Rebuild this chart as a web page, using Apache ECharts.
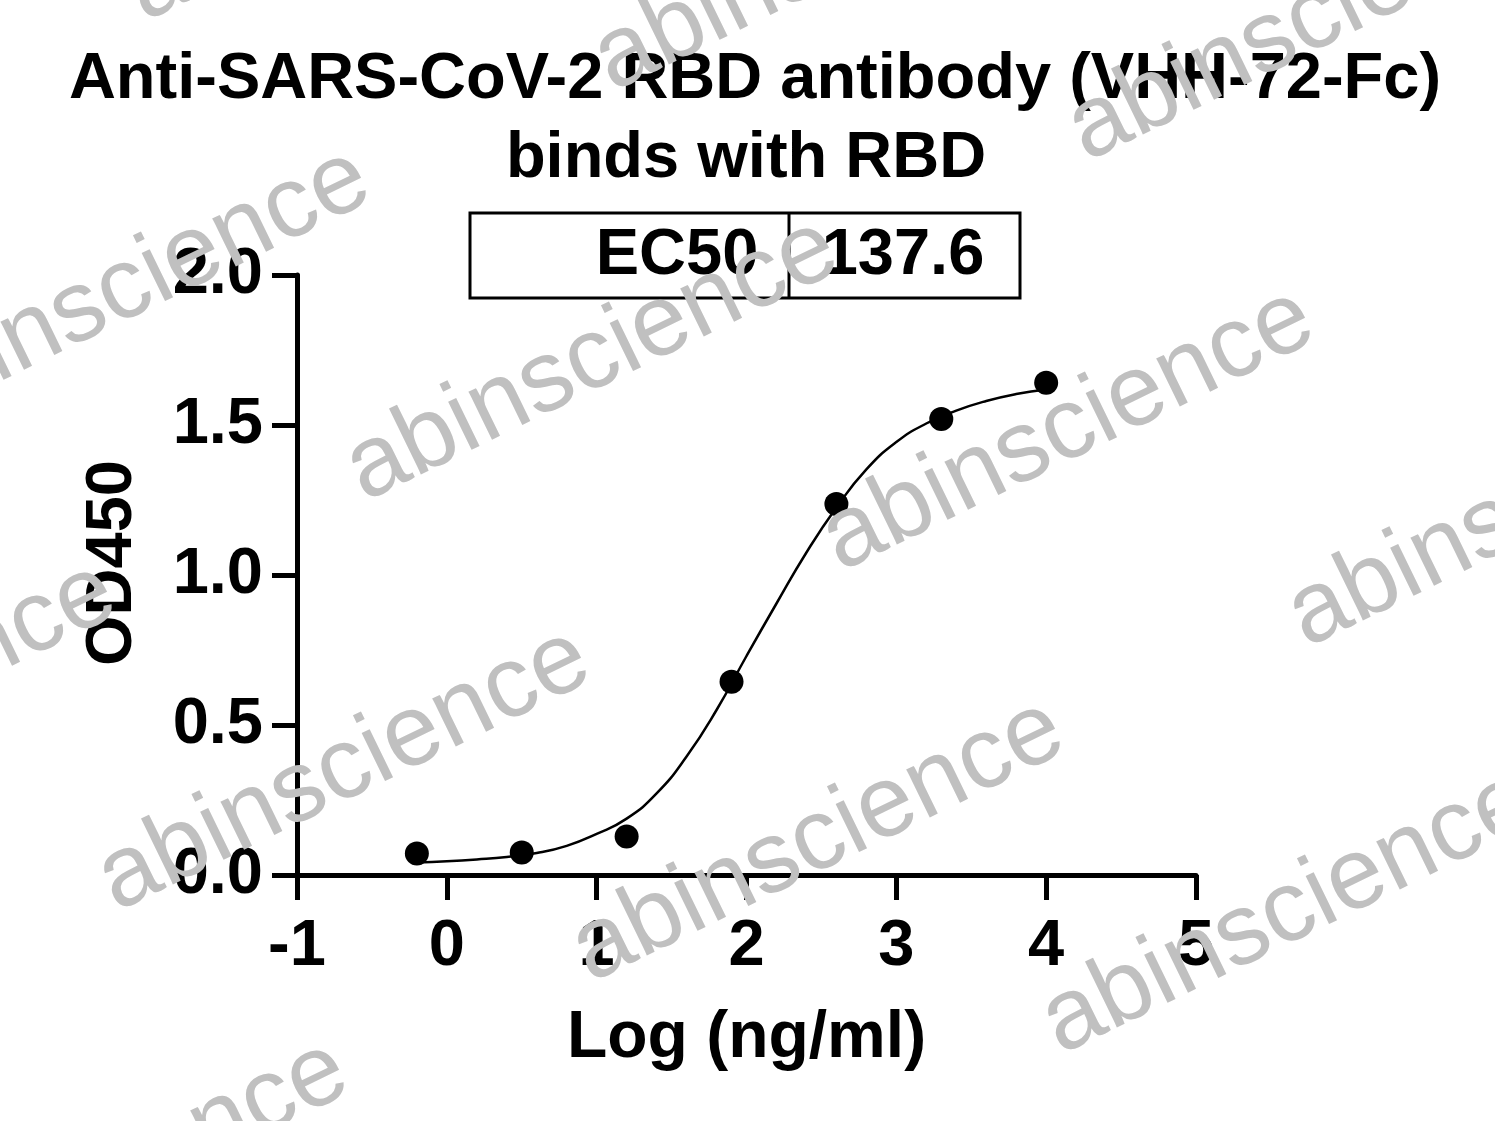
<!DOCTYPE html>
<html>
<head>
<meta charset="utf-8">
<script src="https://cdn.jsdelivr.net/npm/echarts@6/dist/echarts.min.js"></script>
<style>
html,body{margin:0;padding:0;background:#fff;}
#chart{width:1495px;height:1121px;}
</style>
</head>
<body>
<div id="chart"></div>
<script>
// ---- data ----
const titleLines = ['Anti-SARS-CoV-2 RBD antibody (VHH-72-Fc)', 'binds with RBD'];
const xAxisName = 'Log (ng/ml)';
const yAxisName = 'OD450';
const xTicks = [-1, 0, 1, 2, 3, 4, 5];
const yTicks = [0, 0.5, 1.0, 1.5, 2.0];
const pointX = [-0.2, 0.5, 1.2, 1.9, 2.6, 3.3, 4.0];
const pointY = [0.072, 0.075, 0.128, 0.644, 1.237, 1.52, 1.641];
const curveX = [-0.2, 0.0, 0.2, 0.4, 0.6, 0.8, 1.0, 1.2, 1.4, 1.6, 1.8, 2.0, 2.2, 2.4, 2.6, 2.8, 3.0, 3.2, 3.4, 3.6, 3.8, 4.0];
const curveY = [0.042, 0.046, 0.052, 0.060, 0.073, 0.097, 0.137, 0.188, 0.272, 0.395, 0.550, 0.730, 0.905, 1.075, 1.225, 1.352, 1.443, 1.505, 1.548, 1.580, 1.603, 1.618];
const ec50Label = 'EC50';
const ec50Value = '137.6';
const watermarkText = 'abinscience';

// ---- styling / layout ----
const FONT = '"Liberation Sans", Arial, Helvetica, sans-serif';
const BLACK = '#000000';
const WM_COLOR = '#c0c0c0';
const wmCenters = [
  [592, 360], [840, -50], [344, 770], [102, 1182], [818, 841], [1068, 430],
  [1314, 20], [372, -120], [124, 290], [-130, 704], [1288, 913], [1534, 506]
];

const chart = echarts.init(document.getElementById('chart'), null, {renderer: 'canvas'});

const graphics = [];
// EC50 box
graphics.push({
  type: 'rect', z: 10,
  shape: {x: 470, y: 213, width: 550, height: 85},
  style: {fill: '#fff', stroke: BLACK, lineWidth: 3}
});
graphics.push({
  type: 'line', z: 11,
  shape: {x1: 789, y1: 213, x2: 789, y2: 298},
  style: {stroke: BLACK, lineWidth: 3}
});
graphics.push({
  type: 'text', z: 12, x: 677, y: 256,
  style: {text: ec50Label, fill: BLACK, fontSize: 65, fontWeight: 'bold', fontFamily: FONT,
          align: 'center', verticalAlign: 'middle', textAlign: 'center', textVerticalAlign: 'middle'}
});
graphics.push({
  type: 'text', z: 12, x: 903, y: 256,
  style: {text: ec50Value, fill: BLACK, fontSize: 65, fontWeight: 'bold', fontFamily: FONT,
          align: 'center', verticalAlign: 'middle', textAlign: 'center', textVerticalAlign: 'middle'}
});
// watermarks
wmCenters.forEach(function (c) {
  graphics.push({
    type: 'text', z: 100, x: c[0], y: c[1], rotation: 26 * Math.PI / 180,
    silent: true,
    style: {text: watermarkText, fill: WM_COLOR, fontSize: 101, fontWeight: 'normal', fontFamily: FONT,
            align: 'center', verticalAlign: 'middle', textAlign: 'center', textVerticalAlign: 'middle'}
  });
});

const titleStyle = {fontSize: 65, fontWeight: 'bold', color: BLACK, fontFamily: FONT};

const option = {
  animation: false,
  backgroundColor: '#ffffff',
  title: [
    {text: titleLines[0], left: 755, top: 48, textAlign: 'center', padding: 0, textStyle: titleStyle},
    {text: titleLines[1], left: 746, top: 127, textAlign: 'center', padding: 0, textStyle: titleStyle}
  ],
  grid: {left: 297, right: 299, top: 275, bottom: 246, containLabel: false},
  xAxis: {
    type: 'value',
    min: xTicks[0], max: xTicks[xTicks.length - 1], interval: 1,
    axisLine: {onZero: false, lineStyle: {color: BLACK, width: 5}},
    axisTick: {length: 25, lineStyle: {color: BLACK, width: 5}},
    splitLine: {show: false},
    axisLabel: {
      margin: 40, color: BLACK, fontSize: 65, fontWeight: 'bold', fontFamily: FONT,
      formatter: function (v) { return xTicks.indexOf(v) >= 0 ? String(v) : ''; }
    },
    name: xAxisName, nameLocation: 'middle', nameGap: 131,
    nameTextStyle: {color: BLACK, fontSize: 66, fontWeight: 'bold', fontFamily: FONT}
  },
  yAxis: {
    type: 'value',
    min: yTicks[0], max: yTicks[yTicks.length - 1], interval: 0.5,
    axisLine: {onZero: false, lineStyle: {color: BLACK, width: 5}},
    axisTick: {length: 25, lineStyle: {color: BLACK, width: 5}},
    splitLine: {show: false},
    axisLabel: {
      margin: 34, color: BLACK, fontSize: 65, fontWeight: 'bold', fontFamily: FONT,
      formatter: function (v) { return v.toFixed(1); }
    },
    name: yAxisName, nameLocation: 'middle', nameGap: 151, nameRotate: 90,
    nameTextStyle: {color: BLACK, fontSize: 65, fontWeight: 'bold', fontFamily: FONT, padding: [0, 0, 0, 24]}
  },
  series: [
    {
      type: 'line',
      data: curveX.map(function (x, i) { return [x, curveY[i]]; }),
      smooth: 0.5,
      showSymbol: false,
      lineStyle: {color: BLACK, width: 2.5},
      z: 3
    },
    {
      type: 'scatter',
      data: pointX.map(function (x, i) { return [x, pointY[i]]; }),
      symbol: 'circle',
      symbolSize: 24,
      itemStyle: {color: BLACK, opacity: 1},
      z: 4
    }
  ],
  graphic: graphics
};

chart.setOption(option);
</script>
</body>
</html>
